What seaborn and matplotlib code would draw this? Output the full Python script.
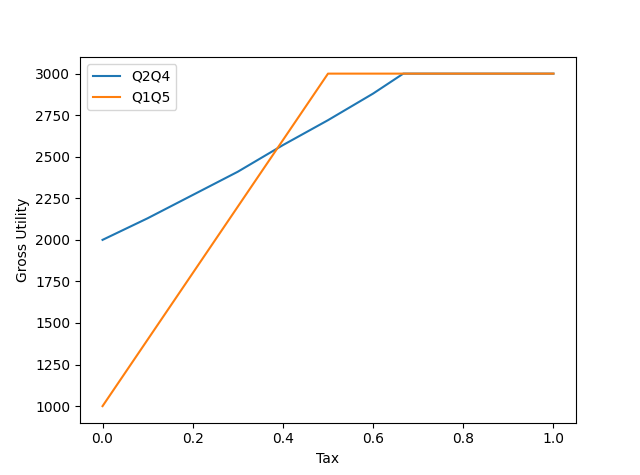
import seaborn as sns
import matplotlib.pyplot as plt

tax_a = [0.0, 0.1, 0.2, 0.3, 0.4, 0.5, 0.6, 0.667, 1.0]
q2q4 = [2000, 2130, 2270, 2410, 2570, 2720, 2880, 3000, 3000]
tax_b = [0.0, 0.5, 1.0]
q1q5 = [1000, 3000, 3000]

fig, ax = plt.subplots(figsize=(6.4, 4.75), dpi=100)
sns.lineplot(x=tax_a, y=q2q4, label="Q2Q4", ax=ax, color="#1f77b4")
sns.lineplot(x=tax_b, y=q1q5, label="Q1Q5", ax=ax, color="#ff7f0e")

ax.set(xlabel="Tax", ylabel="Gross Utility")
ax.legend(loc="upper left")
plt.savefig("out.png", dpi=100)
